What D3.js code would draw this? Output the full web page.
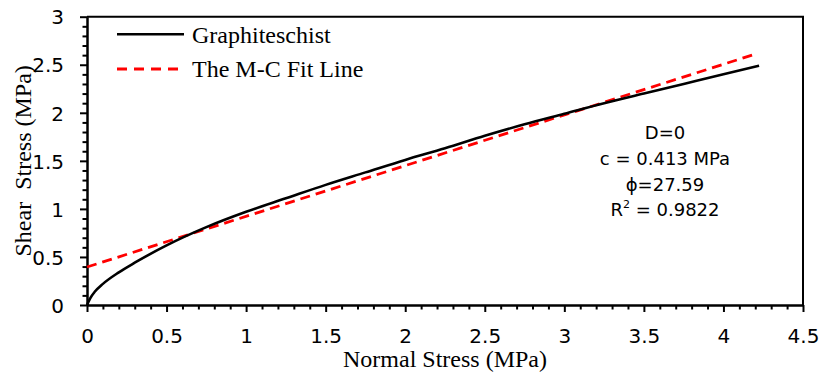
<!DOCTYPE html>
<html>
<head>
<meta charset="utf-8">
<script src="https://cdn.jsdelivr.net/npm/d3@7"></script>
<style>
  html, body { margin: 0; padding: 0; background: #ffffff; }
  svg { display: block; }
</style>
</head>
<body>
<div id="chart"></div>
<script>
// ---- data ----
const curveSigma = [0, 0.02, 0.05, 0.1, 0.2, 0.3, 0.5, 0.75, 1.0, 1.25, 1.5, 1.75, 2.0, 2.25, 2.5, 2.75, 3.0, 3.25, 3.5, 3.75, 4.0, 4.224];
const curveTau   = [0, 0.07, 0.14, 0.22, 0.34, 0.44, 0.62, 0.81, 0.97, 1.11, 1.25, 1.38, 1.51, 1.63, 1.76, 1.88, 1.99, 2.10, 2.20, 2.30, 2.40, 2.49];
const fitSigma = [0, 4.18];
const fitTau   = [0.395, 2.60];
const xMajorTicks = [0, 0.5, 1, 1.5, 2, 2.5, 3, 3.5, 4, 4.5];
const xTickLabels = ["0", "0.5", "1", "1.5", "2", "2.5", "3", "3.5", "4", "4.5"];
const yMajorTicks = [0, 0.5, 1, 1.5, 2, 2.5, 3];
const yTickLabels = ["0", "0.5", "1", "1.5", "2", "2.5", "3"];
const seriesNames = ["Graphiteschist", "The M-C Fit Line"];
const annotationLines = ["D=0", "c = 0.413 MPa", "\u03D5=27.59", "R|2| = 0.9822"];
const xTitle = "Normal Stress (MPa)";
const yTitle = "Shear  Stress (MPa)";

// ---- layout ----
const W = 821, H = 376;
const L = 87, R = 803, T = 16.7, B = 305;
const serif = "'Liberation Serif','Times New Roman',serif";
const sans = "'DejaVu Sans',sans-serif";

const svg = d3.select("#chart").append("svg").attr("width", W).attr("height", H);

const x = d3.scaleLinear().domain([0, 4.5]).range([L, R]);
const y = d3.scaleLinear().domain([0, 3]).range([B, T]);

const xMinor = d3.range(0, 45.5, 1).map(d => d / 10).filter(d => !xMajorTicks.some(m => Math.abs(m - d) < 1e-9));
const yMinor = d3.range(0, 30.5, 1).map(d => d / 10).filter(d => !yMajorTicks.some(m => Math.abs(m - d) < 1e-9));

// frame (top and right)
svg.append("path")
  .attr("d", `M${L},${T}H${R}V${B}`)
  .attr("fill", "none").attr("stroke", "#000").attr("stroke-width", 2);

// minor ticks
const xMinorAxis = svg.append("g").attr("transform", `translate(0,${B})`)
  .call(d3.axisBottom(x).tickValues(xMinor).tickSize(4.5).tickFormat(""));
xMinorAxis.select(".domain").remove();
xMinorAxis.selectAll("line").attr("stroke-width", 2);

const yMinorAxis = svg.append("g").attr("transform", `translate(${L},0)`)
  .call(d3.axisLeft(y).tickValues(yMinor).tickSize(4.5).tickFormat(""));
yMinorAxis.select(".domain").remove();
yMinorAxis.selectAll("line").attr("stroke-width", 2);

// major axes
const xAxis = svg.append("g").attr("transform", `translate(0,${B})`)
  .call(d3.axisBottom(x).tickValues(xMajorTicks).tickSize(7).tickSizeOuter(0)
    .tickFormat((d, i) => xTickLabels[i]));
xAxis.select(".domain").attr("stroke-width", 2.5);
xAxis.selectAll("line").attr("stroke-width", 2);
xAxis.selectAll("text")
  .attr("font-family", sans).attr("font-size", 20).attr("fill", "#000")
  .attr("y", 38).attr("dy", 0);

const yAxis = svg.append("g").attr("transform", `translate(${L},0)`)
  .call(d3.axisLeft(y).tickValues(yMajorTicks).tickSize(7).tickSizeOuter(0)
    .tickFormat((d, i) => yTickLabels[i]));
yAxis.select(".domain").attr("stroke-width", 2.5);
yAxis.selectAll("line").attr("stroke-width", 2);
yAxis.selectAll("text")
  .attr("font-family", sans).attr("font-size", 20).attr("fill", "#000")
  .attr("x", -23).attr("dy", "0.36em");

// series
const curveData = curveSigma.map((s, i) => [s, curveTau[i]]);
const fitData = fitSigma.map((s, i) => [s, fitTau[i]]);
const line = d3.line().x(d => x(d[0])).y(d => y(d[1])).curve(d3.curveMonotoneX);

svg.append("path").datum(fitData)
  .attr("d", line).attr("fill", "none")
  .attr("stroke", "#FF0000").attr("stroke-width", 2.8).attr("stroke-dasharray", "10,6");

svg.append("path").datum(curveData)
  .attr("d", line).attr("fill", "none")
  .attr("stroke", "#000").attr("stroke-width", 2.6);

// legend
const legend = svg.append("g");
legend.append("line").attr("x1", 117).attr("x2", 184).attr("y1", 34.3).attr("y2", 34.3)
  .attr("stroke", "#000").attr("stroke-width", 2.6);
legend.append("line").attr("x1", 117).attr("x2", 184).attr("y1", 69).attr("y2", 69)
  .attr("stroke", "#FF0000").attr("stroke-width", 2.8).attr("stroke-dasharray", "10,7");
legend.append("text").attr("x", 192).attr("y", 42.7).text(seriesNames[0])
  .attr("font-family", serif).attr("font-size", 24).attr("fill", "#000");
legend.append("text").attr("x", 192).attr("y", 76.7).text(seriesNames[1])
  .attr("font-family", serif).attr("font-size", 24).attr("fill", "#000");

// annotation
const ann = svg.append("g");
annotationLines.forEach((s, i) => {
  const t = ann.append("text").attr("x", 665).attr("y", 139.3 + i * 25.7)
    .attr("text-anchor", "middle")
    .attr("font-family", sans).attr("font-size", 18).attr("fill", "#000");
  const parts = s.split("|");
  if (parts.length === 1) {
    t.text(s);
  } else {
    t.append("tspan").text(parts[0]);
    t.append("tspan").text(parts[1]).attr("font-size", 11).attr("dy", -8);
    t.append("tspan").text(parts[2]).attr("dy", 8);
  }
});

// axis titles
svg.append("text").attr("x", 445).attr("y", 366.7).attr("text-anchor", "middle")
  .attr("font-family", serif).attr("font-size", 24).attr("fill", "#000").text(xTitle);
svg.append("text")
  .attr("transform", `translate(31,${(T + B) / 2}) rotate(-90)`)
  .attr("text-anchor", "middle").style("white-space", "pre")
  .attr("font-family", serif).attr("font-size", 24).attr("fill", "#000").text(yTitle);
</script>
</body>
</html>
